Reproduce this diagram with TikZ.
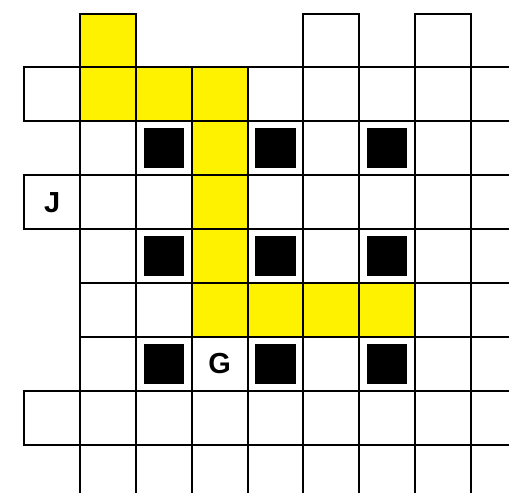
\documentclass[tikz,border=0pt]{standalone}
\usepackage{fontspec}
\setmainfont{Liberation Sans}
\usetikzlibrary{positioning}

\begin{document}
\begin{tikzpicture}[x=55.8pt,y=-53.92pt,
  cell/.style={draw,line width=2pt},
  lit/.style={fill=yellow},
  block/.style={fill=black,inner sep=0pt,minimum width=40.5pt,minimum height=40pt},
  tag/.style={font=\fontsize{29}{29}\selectfont\bfseries}]
\useasboundingbox (-0.4355,-0.2504) rectangle (8.686,8.874);
\clip (-0.4355,-0.2504) rectangle (8.686,8.874);
% yellow route
\foreach \c/\r in {1/0,1/1,2/1,3/1,3/2,3/3,3/4,3/5,4/5,5/5,6/5}
  \fill[lit] (\c,\r) rectangle ++(1,1);
% grid
\foreach \c in {1,...,8} \foreach \r in {1,...,8} \draw[cell] (\c,\r) rectangle ++(1,1);
\foreach \c/\r in {1/0,5/0,7/0,0/1,0/3,0/7} \draw[cell] (\c,\r) rectangle ++(1,1);
% black squares
\foreach \c in {2,4,6} \foreach \r in {2,4,6} \node[block] (b\c\r) at (\c+0.5,\r+0.5) {};
\node[tag] (J) at (0.5,3.5) {J};
\node[tag] (G) at (3.5,6.5) {G};
\end{tikzpicture}
\end{document}
